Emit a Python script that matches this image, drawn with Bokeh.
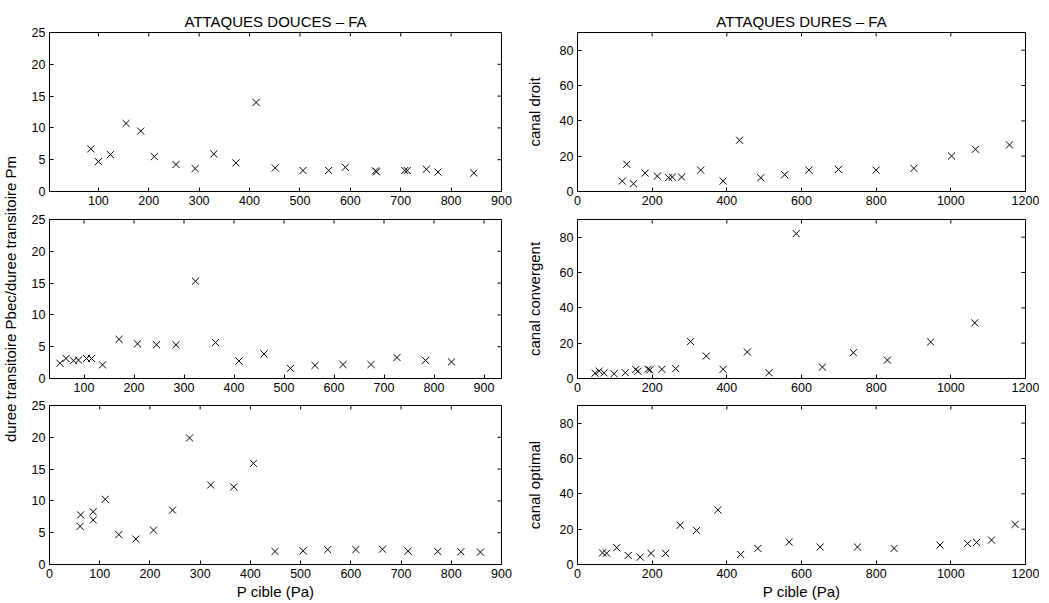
import math
from bokeh.plotting import figure
from bokeh.layouts import row, column
from bokeh.models import Range1d, FixedTicker, Label
from bokeh.embed import file_html
from bokeh.resources import INLINE

FONT = "Liberation Sans"

# ---------------- data ----------------
# ATTAQUES DOUCES - FA
douces_pm_x = [85, 100, 124, 155, 184, 211, 254, 292, 329, 373, 413, 451, 506, 557,
               590, 650, 652, 708, 713, 751, 774, 845]
douces_pm_y = [6.7, 4.7, 5.8, 10.7, 9.5, 5.5, 4.25, 3.6, 5.9, 4.5, 14.0, 3.7, 3.3, 3.3,
               3.8, 3.25, 3.1, 3.3, 3.3, 3.5, 3.05, 2.9]

douces_pbec_x = [52, 64, 79, 89, 105, 115, 137, 170, 207, 245, 284, 323, 363, 410,
                 460, 513, 562, 618, 674, 726, 783, 835]
douces_pbec_y = [2.4, 3.15, 2.8, 2.9, 3.15, 3.15, 2.15, 6.15, 5.45, 5.3, 5.3, 15.3, 5.65, 2.75,
                 3.85, 1.6, 2.05, 2.2, 2.2, 3.3, 2.85, 2.6]

douces_3_x = [61, 62, 87, 87, 111, 138, 172, 207, 245, 279, 321, 367, 406, 449,
              505, 554, 610, 663, 714, 773, 819, 858]
douces_3_y = [6.0, 7.8, 7.0, 8.3, 10.25, 4.7, 4.0, 5.4, 8.55, 19.9, 12.5, 12.2, 15.9, 2.05,
              2.15, 2.35, 2.35, 2.4, 2.1, 2.05, 2.0, 1.95]

# ATTAQUES DURES - FA
droit_x = [120, 132, 150, 181, 214, 244, 254, 279, 330, 390, 434, 491, 555, 620,
           699, 800, 901, 1002, 1066, 1157]
droit_y = [5.9, 15.4, 4.4, 10.4, 8.7, 7.8, 8.15, 8.15, 12.1, 5.9, 29.0, 7.8, 9.5, 12.1,
           12.5, 12.1, 13.1, 20.1, 23.9, 26.4]

convergent_x = [47, 58, 71, 98, 128, 156, 162, 189, 194, 226, 263, 303, 345, 390,
                455, 513, 586, 656, 739, 830, 946, 1064]
convergent_y = [3.0, 4.2, 3.2, 2.7, 3.3, 5.1, 4.1, 5.2, 4.9, 5.2, 5.6, 20.9, 12.7, 5.2,
                15.0, 3.25, 82.0, 6.45, 14.6, 10.4, 20.7, 31.5]

optimal_x = [67, 78, 105, 136, 168, 197, 236, 275, 319, 376, 437, 483, 567, 650,
             750, 848, 971, 1045, 1069, 1109, 1172]
optimal_y = [6.6, 6.4, 9.5, 5.1, 4.2, 6.3, 6.3, 22.2, 19.3, 30.9, 5.7, 9.1, 12.7, 9.9,
             9.9, 9.1, 11.0, 11.9, 12.5, 13.8, 22.7]

# ticks / labels
left_yticks = [0, 5, 10, 15, 20, 25]
left_xticks = [0, 100, 200, 300, 400, 500, 600, 700, 800, 900]
right_yticks = [0, 20, 40, 60, 80]
right_xticks = [0, 200, 400, 600, 800, 1000, 1200]

title_left = "ATTAQUES DOUCES \u2013 FA"
title_right = "ATTAQUES DURES \u2013 FA"
shared_ylabel = "duree transitoire Pbec/duree transitoire Pm"
xlabel = "P cible (Pa)"
ylabels_right = ["canal droit", "canal convergent", "canal optimal"]

FRAME_H = 159
LEFT_W = 452
RIGHT_W = 448
TICK = 4


def style_axis(ax, ticks):
    ax.ticker = FixedTicker(ticks=ticks)
    ax.major_tick_in = TICK
    ax.major_tick_out = 0
    ax.minor_tick_in = 0
    ax.minor_tick_out = 0
    ax.axis_line_color = "black"
    ax.major_tick_line_color = "black"
    ax.major_label_text_font = FONT
    ax.major_label_text_font_size = "12.5px"
    ax.major_label_text_color = "black"
    ax.major_label_standoff = 4
    ax.axis_label_text_font = FONT
    ax.axis_label_text_font_size = "15px"
    ax.axis_label_text_font_style = "normal"
    ax.axis_label_text_color = "black"


def panel(x, y, xr, yr, xticks, yticks, frame_w, mb, title=None, ylabel=None,
          xlab=None):
    p = figure(frame_width=frame_w, frame_height=FRAME_H,
               x_range=Range1d(*xr), y_range=Range1d(*yr),
               toolbar_location=None, output_backend="svg",
               min_border_left=mb[0], min_border_right=mb[1],
               min_border_top=mb[2], min_border_bottom=mb[3])
    p.xgrid.visible = False
    p.ygrid.visible = False
    p.outline_line_color = "black"
    p.outline_line_width = 1
    p.background_fill_color = "white"
    p.border_fill_color = "white"
    style_axis(p.xaxis[0], xticks)
    style_axis(p.yaxis[0], yticks)
    if ylabel:
        p.yaxis[0].axis_label = ylabel
        p.yaxis[0].axis_label_standoff = 14
    if xlab:
        p.xaxis[0].axis_label = xlab
        p.xaxis[0].axis_label_standoff = 2
    # mirrored inward ticks on the top and right edges of the box
    tx = [t for t in xticks if xr[0] <= t <= xr[1]]
    ty = [t for t in yticks if yr[0] <= t <= yr[1]]
    p.ray(x=tx, y=[yr[1]] * len(tx), length=TICK, length_units="screen",
          angle=-math.pi / 2, line_color="black", line_width=1)
    p.ray(x=[xr[1]] * len(ty), y=ty, length=TICK, length_units="screen",
          angle=math.pi, line_color="black", line_width=1)
    if title:
        p.title.text = title
        p.title.align = "center"
        p.title.text_font = FONT
        p.title.text_font_size = "15px"
        p.title.text_font_style = "normal"
        p.title.text_color = "black"
        p.title.standoff = 6
    p.scatter(x, y, marker="x", size=10, line_color="black", line_width=1)
    return p


# borders: (left, right, top, bottom)
LB = (19, 12)
RB = (64, 14)
row_tb = [(32, 20), (8, 20), (7, 36)]

l1 = panel(douces_pm_x, douces_pm_y, (3, 900), (0, 25), left_xticks, left_yticks,
           LEFT_W, LB + row_tb[0], title=title_left)
l2 = panel(douces_pbec_x, douces_pbec_y, (31, 935), (0, 25), left_xticks, left_yticks,
           LEFT_W, LB + row_tb[1])
l3 = panel(douces_3_x, douces_3_y, (0, 900), (0, 25), left_xticks, left_yticks,
           LEFT_W, LB + row_tb[2], xlab=xlabel)

r1 = panel(droit_x, droit_y, (0, 1200), (0, 90), right_xticks, right_yticks,
           RIGHT_W, RB + row_tb[0], title=title_right, ylabel=ylabels_right[0])
r2 = panel(convergent_x, convergent_y, (0, 1200), (0, 90), right_xticks, right_yticks,
           RIGHT_W, RB + row_tb[1], ylabel=ylabels_right[1])
r3 = panel(optimal_x, optimal_y, (0, 1200), (0, 90), right_xticks, right_yticks,
           RIGHT_W, RB + row_tb[2], ylabel=ylabels_right[2], xlab=xlabel)

TOTAL_H = sum(a + b for a, b in row_tb) + 3 * FRAME_H
LAB_W = 28
lab = figure(frame_width=LAB_W, frame_height=TOTAL_H, x_range=Range1d(0, LAB_W),
             y_range=Range1d(0, TOTAL_H), toolbar_location=None, output_backend="svg",
             x_axis_location=None, y_axis_location=None, min_border=0)
lab.xgrid.visible = False
lab.ygrid.visible = False
lab.outline_line_color = None
lab.add_layout(Label(x=10, y=TOTAL_H - 298.5, text=shared_ylabel, angle=math.pi / 2,
                     text_align="center", text_baseline="middle", text_font=FONT,
                     text_font_size="15px", text_color="black"))

layout = row(lab, column(l1, l2, l3), column(r1, r2, r3))
open("out.html", "w").write(file_html(layout, INLINE))
